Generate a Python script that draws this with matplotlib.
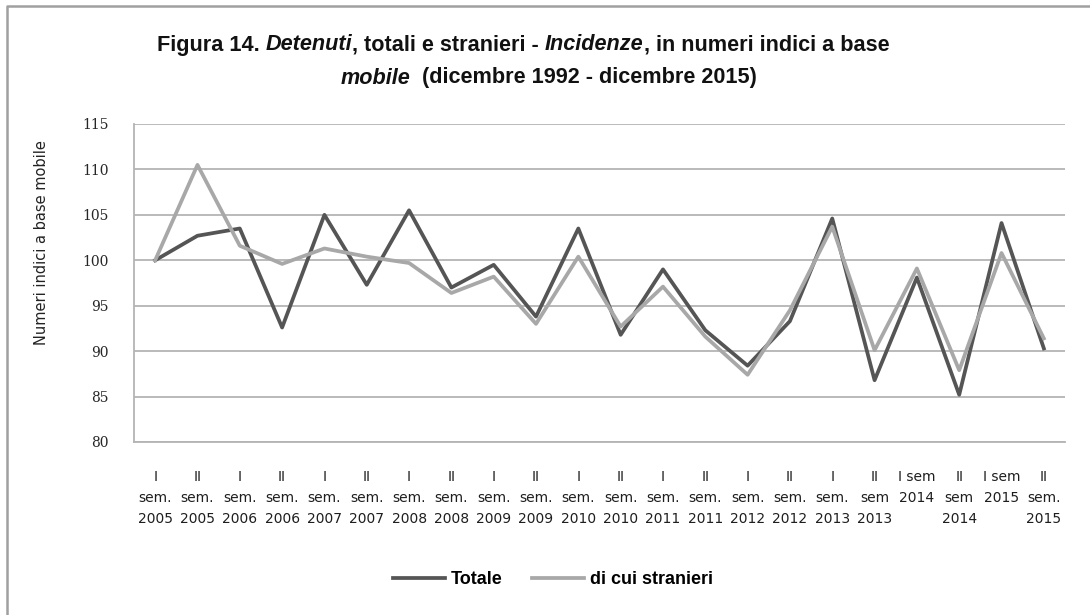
import matplotlib
matplotlib.use("Agg")
import matplotlib.pyplot as plt
from matplotlib.lines import Line2D

# etichette dei semestri (asse x)
categorie = [
    "I\nsem.\n2005", "II\nsem.\n2005", "I\nsem.\n2006", "II\nsem.\n2006",
    "I\nsem.\n2007", "II\nsem.\n2007", "I\nsem.\n2008", "II\nsem.\n2008",
    "I\nsem.\n2009", "II\nsem.\n2009", "I\nsem.\n2010", "II\nsem.\n2010",
    "I\nsem.\n2011", "II\nsem.\n2011", "I\nsem.\n2012", "II\nsem.\n2012",
    "I\nsem.\n2013", "II\nsem\n2013", "I sem\n2014", "II\nsem\n2014",
    "I sem\n2015", "II\nsem.\n2015",
]

# numeri indici a base mobile
totale = [100.0, 102.7, 103.5, 92.6, 105.0, 97.3, 105.5, 97.0, 99.5, 93.8, 103.5,
          91.8, 99.0, 92.3, 88.4, 93.3, 104.6, 86.8, 98.1, 85.2, 104.1, 90.3]
stranieri = [100.0, 110.5, 101.6, 99.6, 101.3, 100.4, 99.7, 96.4, 98.2, 93.0, 100.4,
             92.7, 97.1, 91.6, 87.4, 94.5, 103.7, 90.1, 99.1, 87.9, 100.8, 91.4]

yticks = [80, 85, 90, 95, 100, 105, 110, 115]

titolo_riga1 = [("Figura 14. ", "normal"), ("Detenuti", "italic"),
                (", totali e stranieri - ", "normal"), ("Incidenze", "italic"),
                (", in numeri indici a base", "normal")]
titolo_riga2 = [("mobile", "italic"), ("  (dicembre 1992 - dicembre 2015)", "normal")]

font_titolo = ["Liberation Sans", "DejaVu Sans"]

fig = plt.figure(figsize=(10.9, 6.15), dpi=100)
W, H = 1090, 615

ax = fig.add_axes([134 / W, 1 - 442 / H, (1065 - 134) / W, (442 - 124) / H])
x = list(range(len(categorie)))
ax.plot(x, totale, color="#555555", lw=2.7, label="Totale")
ax.plot(x, stranieri, color="#a8a8a8", lw=2.7, label="di cui stranieri")

ax.set_xlim(-0.5, len(categorie) - 0.5)
ax.set_ylim(80, 115)
ax.set_yticks(yticks)
ax.set_xticks(x)
ax.set_xticklabels(categorie, fontsize=10, color="#1e1e1e", linespacing=1.65)
for t in ax.get_yticklabels():
    t.set_fontfamily("DejaVu Serif")
    t.set_fontsize(10)
    t.set_color("#262626")
ax.tick_params(axis="both", length=0)
ax.tick_params(axis="y", pad=18)
ax.tick_params(axis="x", pad=20)
ax.grid(axis="y", color="#b4b4b4", lw=1.3)
ax.set_axisbelow(True)
for s in ["top", "right"]:
    ax.spines[s].set_visible(False)
for s in ["left", "bottom"]:
    ax.spines[s].set_color("#b4b4b4")
    ax.spines[s].set_linewidth(1.3)

fig.text(42 / W, 1 - 243 / H, "Numeri indici a base mobile", rotation=90,
         ha="center", va="center", fontsize=10.5, color="#222222")

fig.legend(loc="center", bbox_to_anchor=(553 / W, 1 - 580 / H), ncol=2,
           frameon=False, handlelength=2.9, handletextpad=0.35, columnspacing=1.6,
           prop={"family": font_titolo, "weight": "bold", "size": 13})

# titolo con parti in corsivo
renderer = fig.canvas.get_renderer()


def scrivi_riga(pezzi, y, centro):
    testi = []
    for testo, stile in pezzi:
        t = fig.text(0, y, testo, fontsize=15.6, fontweight="bold", style=stile,
                     family=font_titolo, color="#111111", va="center",
                     transform=None)
        testi.append(t)
    larghezze = [t.get_window_extent(renderer).width for t in testi]
    xpos = centro - sum(larghezze) / 2
    for t, w in zip(testi, larghezze):
        t.set_x(xpos)
        xpos += w


scrivi_riga(titolo_riga1, H - 45, 523)
scrivi_riga(titolo_riga2, H - 78, 549)

# cornice esterna
fig.add_artist(Line2D([7 / W, 7 / W, 1.0], [0.0, 1 - 6 / H, 1 - 6 / H],
                      transform=fig.transFigure, color="#a0a0a0", lw=1.8))

fig.savefig("out.png", dpi=100)
